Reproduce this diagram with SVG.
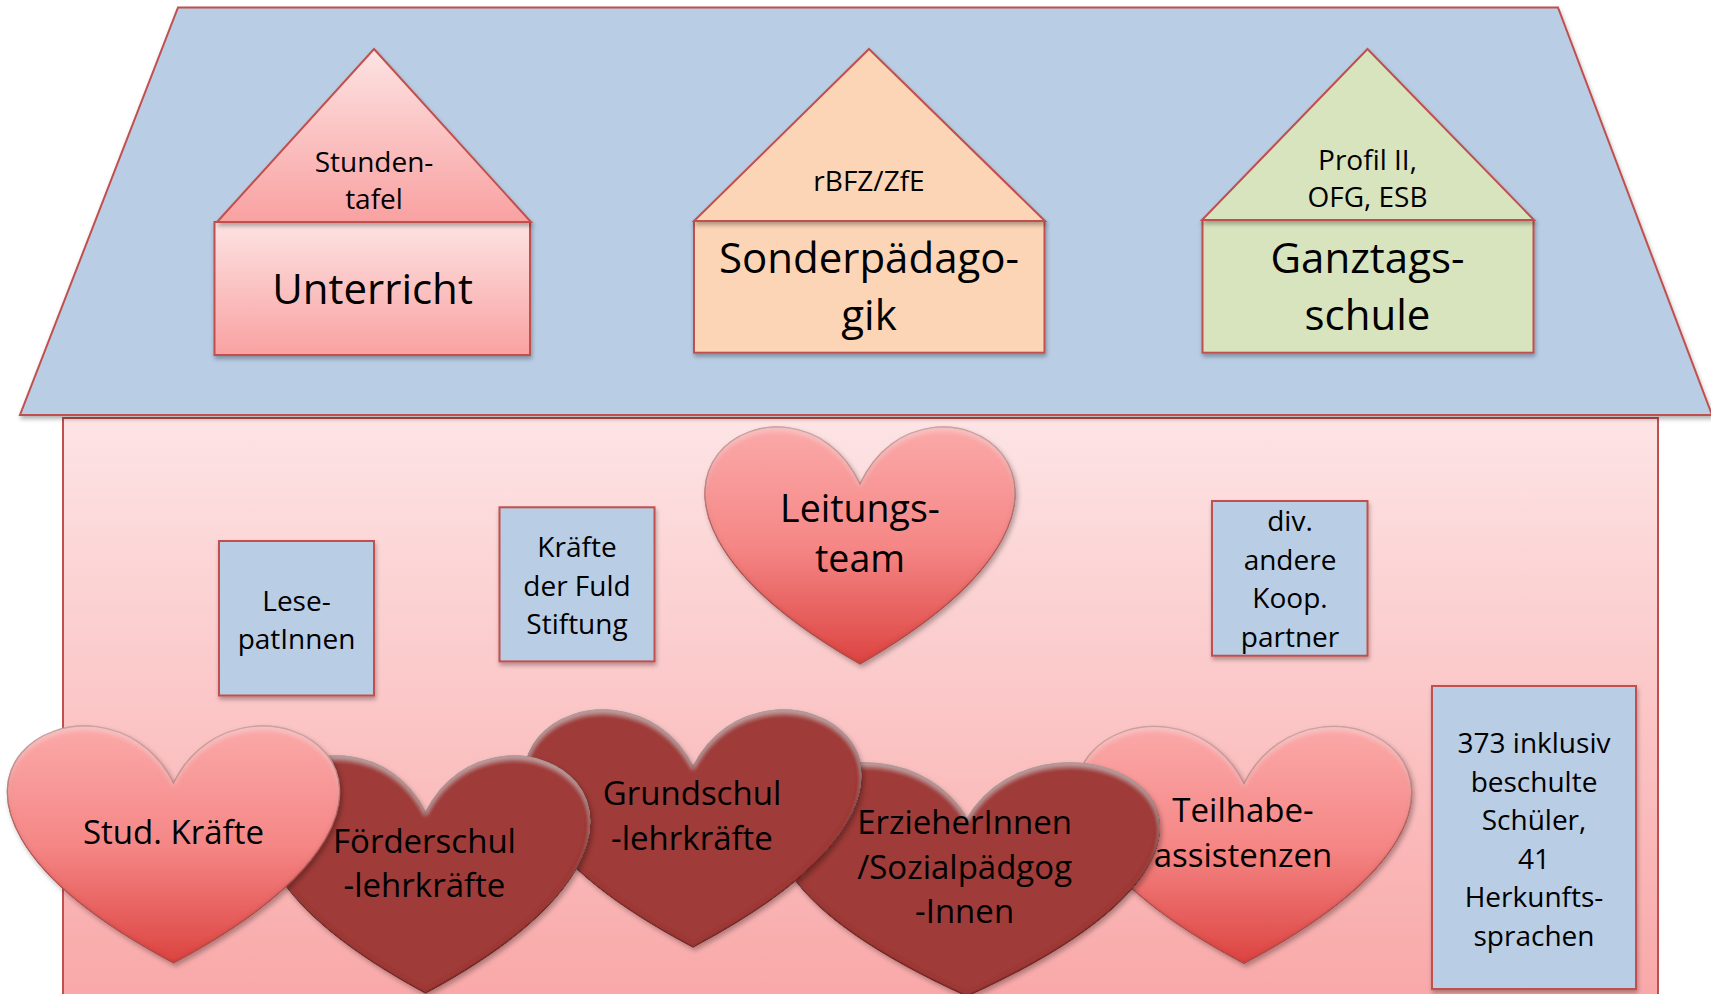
<svg xmlns="http://www.w3.org/2000/svg" width="1711" height="994" viewBox="0 0 1711 994">
<style>
  text { font-family: "Open Sans", "Noto Sans", "DejaVu Sans", sans-serif; fill: #000; text-anchor: middle; }
  .s { font-size: 28px; }
  .b { font-size: 42px; }
  .hl { font-size: 37.5px; }
  .h { font-size: 33px; }
  .edge { stroke: #c0504d; stroke-width: 2; }
  .blue { fill: #b9cde5; }
  .lh { fill: url(#gLight); stroke: #b5504d; stroke-width: 1.2; }
  .dh { fill: #9f3a38; stroke: #6e2321; stroke-width: 1.2; }
</style>
<defs>
  <linearGradient id="gWall" x1="0" y1="0" x2="0" y2="1">
    <stop offset="0" stop-color="#fde4e5"/>
    <stop offset="1" stop-color="#f9a6a6"/>
  </linearGradient>
  <linearGradient id="gPink" x1="0" y1="0" x2="0" y2="1">
    <stop offset="0" stop-color="#fde3e3"/>
    <stop offset="1" stop-color="#f9a1a1"/>
  </linearGradient>
  <linearGradient id="gLight" x1="0" y1="0" x2="0" y2="1">
    <stop offset="0" stop-color="#fba9a9"/>
    <stop offset="0.5" stop-color="#f58786"/>
    <stop offset="1" stop-color="#dc4441"/>
  </linearGradient>
  <filter id="shadow" x="-10%" y="-10%" width="120%" height="125%">
    <feGaussianBlur in="SourceAlpha" stdDeviation="2"/>
    <feOffset dx="1" dy="2.5" result="o"/>
    <feFlood flood-color="#000" flood-opacity="0.3"/>
    <feComposite in2="o" operator="in" result="sh"/>
    <feMerge><feMergeNode in="sh"/><feMergeNode in="SourceGraphic"/></feMerge>
  </filter>
  <filter id="bevel" x="-10%" y="-10%" width="120%" height="125%">
    <feGaussianBlur in="SourceAlpha" stdDeviation="2.5" result="blur"/>
    <feOffset in="blur" dx="1.5" dy="3" result="off"/>
    <feFlood flood-color="#000" flood-opacity="0.3"/>
    <feComposite in2="off" operator="in" result="sh"/>
    <feComposite in="SourceAlpha" in2="blur" operator="arithmetic" k2="1" k3="-1" result="rim"/>
    <feFlood flood-color="#6a1c1a" flood-opacity="0.55"/>
    <feComposite in2="rim" operator="in" result="rimc"/>
    <feOffset in="blur" dx="0" dy="4" result="blur2"/>
    <feComposite in="SourceAlpha" in2="blur2" operator="arithmetic" k2="1" k3="-1" result="top"/>
    <feFlood flood-color="#ffffff" flood-opacity="0.35"/>
    <feComposite in2="top" operator="in" result="topc"/>
    <feMerge><feMergeNode in="sh"/><feMergeNode in="SourceGraphic"/><feMergeNode in="rimc"/><feMergeNode in="topc"/></feMerge>
  </filter>
</defs>

<g id="wall">
  <rect x="63" y="418" width="1595" height="600" fill="url(#gWall)" class="edge"/>
</g>
<g id="roof">
  <polygon points="178,7.5 1558,7.5 1712,415 20,415" class="blue edge" filter="url(#shadow)"/>
</g>

<g id="unterricht">
  <rect x="214.5" y="222" width="315.5" height="133" fill="url(#gPink)" class="edge" filter="url(#shadow)"/>
  <polygon points="374,49 531,222 217,222" fill="url(#gPink)" class="edge" filter="url(#shadow)"/>
  <text class="s" x="374" y="171.7">Stunden-</text>
  <text class="s" x="374" y="209.3">tafel</text>
  <text class="b" x="372.5" y="304">Unterricht</text>
</g>

<g id="sonderpaedagogik">
  <rect x="694" y="221" width="350.5" height="131.7" fill="#fbd5b5" class="edge" filter="url(#shadow)"/>
  <polygon points="869,49 1045,221 694,221" fill="#fbd5b5" class="edge" filter="url(#shadow)"/>
  <text class="s" x="869" y="191">rBFZ/ZfE</text>
  <text class="b" x="869" y="273.3">Sonderpädago-</text>
  <text class="b" x="869" y="330">gik</text>
</g>

<g id="ganztagsschule">
  <rect x="1202.5" y="220" width="331" height="132.7" fill="#d7e4bd" class="edge" filter="url(#shadow)"/>
  <polygon points="1367.5,49 1534,220 1202,220" fill="#d7e4bd" class="edge" filter="url(#shadow)"/>
  <text class="s" x="1367.5" y="170">Profil II,</text>
  <text class="s" x="1367.5" y="207.3">OFG, ESB</text>
  <text class="b" x="1367.5" y="272.7">Ganztags-</text>
  <text class="b" x="1367.5" y="330">schule</text>
</g>

<g id="lesepatinnen">
  <rect x="219" y="541" width="155" height="154.5" class="blue edge" filter="url(#shadow)"/>
  <text class="s" x="296.5" y="611.4">Lese-</text>
  <text class="s" x="296.5" y="649">patInnen</text>
</g>

<g id="fuld-stiftung">
  <rect x="499.5" y="507.3" width="155" height="154.1" class="blue edge" filter="url(#shadow)"/>
  <text class="s" x="577" y="557">Kräfte</text>
  <text class="s" x="577" y="595.5">der Fuld</text>
  <text class="s" x="577" y="634">Stiftung</text>
</g>

<g id="koop-partner">
  <rect x="1212" y="501" width="155.5" height="154.7" class="blue edge" filter="url(#shadow)"/>
  <text class="s" x="1290" y="531">div.</text>
  <text class="s" x="1290" y="569.5">andere</text>
  <text class="s" x="1290" y="608">Koop.</text>
  <text class="s" x="1290" y="646.5">partner</text>
</g>

<g id="schueler">
  <rect x="1432" y="686" width="204" height="303" class="blue edge" filter="url(#shadow)"/>
  <text class="s" x="1534" y="753">373 inklusiv</text>
  <text class="s" x="1534" y="791.5">beschulte</text>
  <text class="s" x="1534" y="830">Schüler,</text>
  <text class="s" x="1534" y="868.5">41</text>
  <text class="s" x="1534" y="907">Herkunfts-</text>
  <text class="s" x="1534" y="945.5">sprachen</text>
</g>

<g id="leitungsteam">
  <path class="lh" filter="url(#bevel)" d="M 860,484 C 924.2,344 1174.4,484 860,664 C 545.6,484 795.8,344 860,484 Z"/>
  <text class="hl" x="860" y="522">Leitungs-</text>
  <text class="hl" x="860" y="572.3">team</text>
</g>

<g id="teilhabeassistenzen">
  <path class="lh" filter="url(#bevel)" d="M 1244,783.5 C 1313.4,643.5 1583.9,783.5 1244,963.5 C 904.1,783.5 1174.6,643.5 1244,783.5 Z"/>
  <text class="h" x="1243" y="822.3">Teilhabe-</text>
  <text class="h" x="1243" y="866.7">assistenzen</text>
</g>

<g id="erzieherinnen">
  <path class="dh" filter="url(#bevel)" d="M 967,819 C 1046.6,681.3 1357,819 967,996 C 577,819 887.4,681.3 967,819 Z"/>
  <text class="h" x="964.6" y="834">ErzieherInnen</text>
  <text class="h" x="964.6" y="878.6">/Sozialpädgog</text>
  <text class="h" x="964.6" y="923.2">-Innen</text>
</g>

<g id="grundschullehrkraefte">
  <path class="dh" filter="url(#bevel)" d="M 693,767 C 762.6,627 1034,767 693,947 C 352,767 623.4,627 693,767 Z"/>
  <text class="h" x="692" y="804.5">Grundschul</text>
  <text class="h" x="692" y="849.6">-lehrkräfte</text>
</g>

<g id="foerderschullehrkraefte">
  <path class="dh" filter="url(#bevel)" d="M 425.5,813 C 493.6,673 759.3,813 425.5,993 C 91.7,813 357.4,673 425.5,813 Z"/>
  <text class="h" x="424.5" y="852.7">Förderschul</text>
  <text class="h" x="424.5" y="897">-lehrkräfte</text>
</g>

<g id="stud-kraefte">
  <path class="lh" filter="url(#bevel)" d="M 173.5,783 C 242.3,643 510.4,783 173.5,963 C -163.4,783 104.8,643 173.5,783 Z"/>
  <text class="h" x="173.5" y="844">Stud. Kräfte</text>
</g>

<g id="connectors"/>
</svg>
